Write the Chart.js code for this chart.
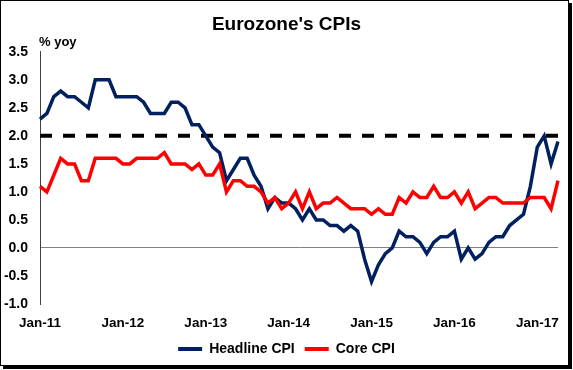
<!DOCTYPE html>
<html><head><meta charset="utf-8">
<script src="https://cdn.jsdelivr.net/npm/chart.js@4.4.1/dist/chart.umd.min.js"></script>
<style>
html,body{margin:0;padding:0;background:#fff;}
#wrap{position:relative;width:573px;height:370px;overflow:hidden;background:#fff;}
#c{position:absolute;left:0;top:0;}
#frame{position:absolute;left:0;top:0;width:569px;height:366px;box-sizing:border-box;border:1px solid #000;box-shadow:3px 3px 0 #000;pointer-events:none;}
</style></head>
<body><div id="wrap"><canvas id="c" width="573" height="370"></canvas><div id="frame"></div></div>
<script>
// ---- data ----
const years = ['11','12','13','14','15','16','17'];
const monthNames = ['Jan','Feb','Mar','Apr','May','Jun','Jul','Aug','Sep','Oct','Nov','Dec'];
const lastYearMonths = 4; // Jan-17 .. Apr-17
const categories = [];
years.forEach((y, yi) => {
  const n = yi === years.length - 1 ? lastYearMonths : 12;
  for (let m = 0; m < n; m++) categories.push(monthNames[m] + '-' + y);
});

const headlineCPI = [
  2.3, 2.4, 2.7, 2.8, 2.7, 2.7, 2.6, 2.5, 3.0, 3.0, 3.0, 2.7,   // 2011
  2.7, 2.7, 2.7, 2.6, 2.4, 2.4, 2.4, 2.6, 2.6, 2.5, 2.2, 2.2,   // 2012
  2.0, 1.8, 1.7, 1.2, 1.4, 1.6, 1.6, 1.3, 1.1, 0.7, 0.9, 0.8,   // 2013
  0.8, 0.7, 0.5, 0.7, 0.5, 0.5, 0.4, 0.4, 0.3, 0.4, 0.3, -0.2,  // 2014
  -0.6, -0.3, -0.1, 0.0, 0.3, 0.2, 0.2, 0.1, -0.1, 0.1, 0.2, 0.2, // 2015
  0.3, -0.2, 0.0, -0.2, -0.1, 0.1, 0.2, 0.2, 0.4, 0.5, 0.6, 1.1, // 2016
  1.8, 2.0, 1.5, 1.9                                            // 2017
];
const coreCPI = [
  1.1, 1.0, 1.3, 1.6, 1.5, 1.5, 1.2, 1.2, 1.6, 1.6, 1.6, 1.6,   // 2011
  1.5, 1.5, 1.6, 1.6, 1.6, 1.6, 1.7, 1.5, 1.5, 1.5, 1.4, 1.5,   // 2012
  1.3, 1.3, 1.5, 1.0, 1.2, 1.2, 1.1, 1.1, 1.0, 0.8, 0.9, 0.7,   // 2013
  0.8, 1.0, 0.7, 1.0, 0.7, 0.8, 0.8, 0.9, 0.8, 0.7, 0.7, 0.7,   // 2014
  0.6, 0.7, 0.6, 0.6, 0.9, 0.8, 1.0, 0.9, 0.9, 1.1, 0.9, 0.9,   // 2015
  1.0, 0.8, 1.0, 0.7, 0.8, 0.9, 0.9, 0.8, 0.8, 0.8, 0.8, 0.9,   // 2016
  0.9, 0.9, 0.7, 1.2                                            // 2017
];
const targetLevel = 2.0;
const yMin = -1.0, yMax = 3.5, yStep = 0.5;
const titleText = "Eurozone's CPIs";
const unitText = '% yoy';
const seriesNames = ['Headline CPI', 'Core CPI'];

// ---- chart ----
const FONT = 'Arial, "Liberation Sans", sans-serif';
const unitLabel = {
  id: 'unitLabel',
  afterDraw(chart) {
    const {ctx, chartArea} = chart;
    ctx.save();
    ctx.font = 'bold 13px ' + FONT;
    ctx.fillStyle = '#000';
    ctx.textAlign = 'left';
    ctx.textBaseline = 'alphabetic';
    ctx.fillText(unitText, chartArea.left - 1, chartArea.top - 6);
    ctx.restore();
  }
};

new Chart(document.getElementById('c'), {
  type: 'line',
  data: {
    labels: categories,
    datasets: [
      {label: seriesNames[0], data: headlineCPI, borderColor: '#002060', backgroundColor: '#002060',
       borderWidth: 3.5, pointRadius: 0, tension: 0, order: 2},
      {label: seriesNames[1], data: coreCPI, borderColor: '#ff0000', backgroundColor: '#ff0000',
       borderWidth: 3.5, pointRadius: 0, tension: 0, order: 1},
      {label: 'target', data: categories.map(() => targetLevel), borderColor: '#000', backgroundColor: '#000',
       borderWidth: 4, borderDash: [12, 11], pointRadius: 0, tension: 0, order: 3}
    ]
  },
  options: {
    responsive: false,
    animation: false,
    devicePixelRatio: 1,
    layout: {padding: {top: 0, bottom: 4, left: 0, right: 0}},
    plugins: {
      title: {display: true, text: titleText, color: '#000',
              font: {family: FONT, size: 19, weight: 'bold'}, padding: {top: 13, bottom: 16}},
      legend: {
        position: 'bottom',
        labels: {
          boxWidth: 24, boxHeight: 4, padding: 10, color: '#000',
          font: {family: FONT, size: 14, weight: 'bold'},
          sort: (a, b) => a.datasetIndex - b.datasetIndex,
          generateLabels: chart => Chart.defaults.plugins.legend.labels.generateLabels(chart)
            .filter(l => l.datasetIndex < 2)
            .map(l => Object.assign(l, {lineWidth: 0}))
        }
      },
      tooltip: {enabled: false}
    },
    scales: {
      x: {
        type: 'category', offset: false,
        grid: {display: false}, border: {display: false},
        ticks: {
          autoSkip: false, maxRotation: 0, minRotation: 0, padding: 3, color: '#000',
          font: {family: FONT, size: 13.5, weight: 'bold'},
          callback: function (v) { const l = this.getLabelForValue(v); return l.startsWith('Jan') ? l : ''; }
        },
        afterFit: s => { s.height = 28; }
      },
      y: {
        min: yMin, max: yMax,
        ticks: {stepSize: yStep, padding: 12, color: '#000',
                font: {family: FONT, size: 14, weight: 'bold'},
                callback: v => Number(v).toFixed(1)},
        grid: {drawTicks: false, lineWidth: 1,
               color: c => (c.tick && Math.abs(c.tick.value) < 1e-9) ? '#808080' : 'rgba(0,0,0,0)'},
        border: {display: true, color: '#404040', width: 1},
        afterFit: s => { s.width = 40; }
      },
      yRight: {
        position: 'right', display: true,
        grid: {display: false}, border: {display: false}, ticks: {display: false},
        afterFit: s => { s.width = 15; }
      }
    }
  },
  plugins: [unitLabel]
});
</script>
</body></html>
